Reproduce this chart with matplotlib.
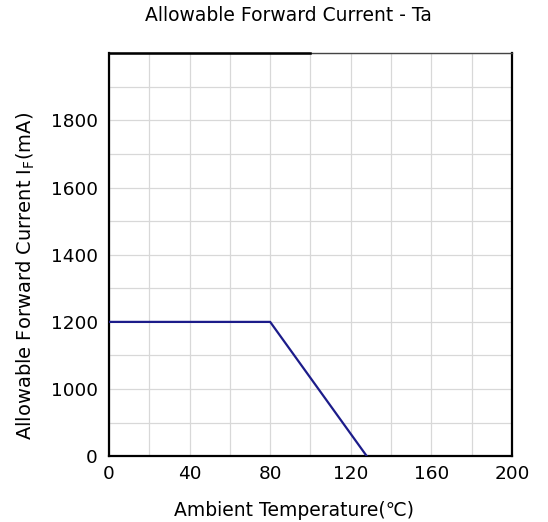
import matplotlib
matplotlib.use("Agg")
import matplotlib.pyplot as plt

plt.rcParams['font.family'] = ['DejaVu Sans', 'Noto Sans CJK SC']

title = "Allowable Forward Current - Ta"
xlabel = "Ambient Temperature(\u2103)"
ylabel = r"Allowable Forward Current I$_{\mathrm{F}}$(mA)"

temp = [0, 80, 128]
current = [1200, 1200, 800]

x_ticks = [0, 40, 80, 120, 160, 200]
y_ticks = [800, 1000, 1200, 1400, 1600, 1800]
y_tick_labels = ["0", "1000", "1200", "1400", "1600", "1800"]

fig = plt.figure(figsize=(5.48, 5.22), dpi=100)
ax = fig.add_axes([0.199, 0.126, 0.735, 0.772])

ax.set_xlim(0, 200)
ax.set_ylim(800, 2000)

ax.set_xticks(list(range(0, 201, 20)), minor=True)
ax.set_yticks(list(range(800, 2001, 100)), minor=True)
ax.set_xticks(x_ticks)
ax.set_yticks(y_ticks)
ax.grid(which='both', color='#d8d8d8', linewidth=0.9)
ax.set_axisbelow(True)

ax.plot(temp, current, color='#1c1c8a', linewidth=1.6, zorder=3)

ax.set_xticklabels([str(v) for v in x_ticks], fontsize=13.3)
ax.set_yticklabels(y_tick_labels, fontsize=13.3)
ax.tick_params(which='both', length=0)
ax.tick_params(axis='x', pad=6)
ax.tick_params(axis='y', pad=8)

for side in ['left', 'right', 'bottom']:
    ax.spines[side].set_linewidth(1.6)
    ax.spines[side].set_color('black')
ax.spines['top'].set_linewidth(1.0)
ax.spines['top'].set_color('#444444')
ax.axhline(2000, xmin=0, xmax=0.5, color='black', linewidth=1.8, clip_on=False, zorder=4)

ax.set_xlabel(xlabel, fontsize=13.5)
ax.xaxis.set_label_coords(0.459, -0.11)
ax.set_ylabel(ylabel, fontsize=14)
ax.yaxis.set_label_coords(-0.178, 0.447)
fig.suptitle(title, fontsize=13.5, x=0.526, y=0.988)

fig.savefig("out.png", dpi=100)
